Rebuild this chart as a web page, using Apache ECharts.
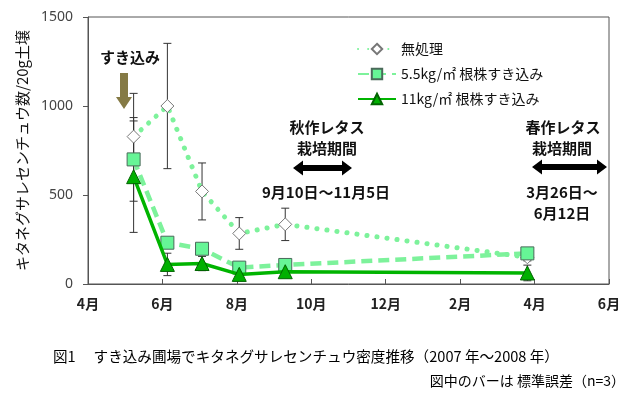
<!DOCTYPE html>
<html>
<head>
<meta charset="utf-8">
<script src="https://cdn.jsdelivr.net/npm/echarts@6/dist/echarts.min.js"></script>
<style>
html, body { margin: 0; padding: 0; background: #fff; }
#Echarts_Div { width: 638px; height: 397px; }
</style>
</head>
<body>
<div id="Echarts_Div"></div>
<script>
// sampling dates and nematode counts per 20g soil
var sampleDates = ['2007-05-08', '2007-06-05', '2007-07-03', '2007-08-03', '2007-09-10', '2008-03-26'];
var seriesNames = ['無処理', '5.5kg/㎡ 根株すき込み', '11kg/㎡ 根株すき込み'];
var noTreat = [828, 1000, 520, 284, 335, 150];
var noTreatSE = [243, 352, 160, 89, 91, 20];
var rate55 = [700, 232, 198, 92, 107, 172];
var rate55SE = [235, 25, 30, 10, 12, 15];
var rate11 = [603, 110, 115, 54, 69, 62];
var rate11SE = [313, 63, 40, 15, 10, 44];
var yTicks = [0, 500, 1000, 1500];

// months counted from 2007-04-01
function monthPos(s){
    var p = s.split('-');
    var y = +p[0], m = +p[1], d = +p[2];
    var days = new Date(y, m, 0).getDate();
    return (y - 2007) * 12 + (m - 4) + (d - 1) / days;
}
function toPoints(vals){
    var out = [];
    for(var i = 0; i < vals.length; i++){
        out.push([monthPos(sampleDates[i]), vals[i]]);
    }
    return out;
}
function toBars(vals, se){
    var out = [];
    for(var i = 0; i < vals.length; i++){
        out.push([monthPos(sampleDates[i]), vals[i] - se[i], vals[i] + se[i]]);
    }
    return out;
}
function renderBar(params, api){
    var top = api.coord([api.value(0), api.value(2)]);
    var bot = api.coord([api.value(0), api.value(1)]);
    var st = { stroke: '#333', lineWidth: 1 };
    return {
        type: 'group',
        children: [
            { type: 'line', shape: { x1: top[0], y1: top[1], x2: bot[0], y2: bot[1] }, style: st },
            { type: 'line', shape: { x1: top[0] - 4, y1: top[1], x2: top[0] + 4, y2: top[1] }, style: st },
            { type: 'line', shape: { x1: bot[0] - 4, y1: bot[1], x2: bot[0] + 4, y2: bot[1] }, style: st }
        ]
    };
}
function errSeries(vals, se){
    return {
        type: 'custom',
        renderItem: renderBar,
        data: toBars(vals, se),
        z: 1,
        silent: true
    };
}
function boldText(x, y, txt, size){
    return {
        type: 'text', x: x, y: y,
        style: {
            text: txt, fill: '#111', font: 'bold ' + (size || 15) + 'px "Noto Sans CJK JP"',
            align: 'center', verticalAlign: 'middle'
        }
    };
}
function dblArrow(x0, x1, y){
    var h = 10, hw = 7.5, sw = 3;
    return {
        type: 'polygon',
        shape: { points: [[x0, y], [x0 + h, y - hw], [x0 + h, y - sw], [x1 - h, y - sw], [x1 - h, y - hw],
                          [x1, y], [x1 - h, y + hw], [x1 - h, y + sw], [x0 + h, y + sw], [x0 + h, y + hw]] },
        style: { fill: '#000' }
    };
}

function drawChart(){
    var chartDom = document.getElementById('Echarts_Div');
    var myChart = echarts.init(chartDom);
    var monthNames = ['4月', '6月', '8月', '10月', '12月', '2月', '4月', '6月'];
    var option = {
        animation: false,
        grid: { left: 88, right: 29, top: 17, bottom: 113, show: true, borderColor: '#555', borderWidth: 1 },
        xAxis: {
            type: 'value', min: 0, max: 14, interval: 2,
            axisLine: { lineStyle: { color: '#555' } },
            axisTick: { inside: true, length: 5, lineStyle: { color: '#555' } },
            splitLine: { show: false },
            axisLabel: {
                margin: 13, color: '#222', fontSize: 14, fontWeight: 'bold', fontFamily: 'Noto Sans CJK JP',
                formatter: function(v){ return monthNames[Math.round(v / 2)]; }
            }
        },
        yAxis: {
            type: 'value', min: yTicks[0], max: yTicks[yTicks.length - 1], interval: 500,
            name: 'キタネグサレセンチュウ数/20g土壌',
            nameLocation: 'middle', nameGap: 46, nameRotate: 90,
            nameTextStyle: { fontSize: 15, color: '#111', fontFamily: 'Noto Sans CJK JP' },
            axisLine: { show: true, lineStyle: { color: '#555' } },
            axisTick: { show: true, length: 5, lineStyle: { color: '#555' } },
            splitLine: { show: false },
            axisLabel: {
                margin: 15, color: '#444', fontSize: 14, fontFamily: 'Noto Sans',
                formatter: function(v){ return String(v); }
            }
        },
        legend: {
            orient: 'vertical', left: 352, top: 37, itemGap: 11,
            itemWidth: 38, itemHeight: 13,
            data: seriesNames,
            textStyle: { fontSize: 14, color: '#111', fontFamily: 'Noto Sans CJK JP' }
        },
        graphic: [
            boldText(130, 57, 'すき込み', 15),
            {
                type: 'polygon',
                shape: { points: [[120, 73], [128, 73], [128, 97], [132, 97], [124, 109], [116, 97], [120, 97]] },
                style: { fill: '#857A45' }
            },
            boldText(327, 127, '秋作レタス'),
            boldText(327, 148, '栽培期間'),
            dblArrow(293, 352, 168),
            boldText(326, 192, '9月10日～11月5日'),
            boldText(563, 127, '春作レタス'),
            boldText(562, 148, '栽培期間'),
            dblArrow(532, 607, 167),
            boldText(562, 192, '3月26日～'),
            boldText(562, 213, '6月12日'),
            {
                type: 'text', x: 53, y: 356,
                style: { text: '図1　 すき込み圃場でキタネグサレセンチュウ密度推移（2007 年～2008 年）',
                         fill: '#000', font: '14.6px "Noto Sans CJK JP"', verticalAlign: 'middle' }
            },
            {
                type: 'text', x: 625, y: 381,
                style: { text: '図中のバーは 標準誤差（n=3）',
                         fill: '#000', font: '14px "Noto Sans CJK JP"', align: 'right', verticalAlign: 'middle' }
            }
        ],
        series: [
            errSeries(noTreat, noTreatSE),
            errSeries(rate55, rate55SE),
            errSeries(rate11, rate11SE),
            {
                name: seriesNames[0], type: 'line', data: toPoints(noTreat), z: 3,
                symbol: 'diamond', symbolSize: 13,
                lineStyle: { color: '#7DF29B', width: 5, type: [0.1, 10], cap: 'round' },
                itemStyle: { color: '#fff', borderColor: '#777', borderWidth: 1 }
            },
            {
                name: seriesNames[1], type: 'line', data: toPoints(rate55), z: 4,
                symbol: 'rect', symbolSize: 13,
                lineStyle: { color: '#7DF29B', width: 4.5, type: [11, 6] },
                itemStyle: { color: '#66F596', borderColor: '#4A6A5A', borderWidth: 1 }
            },
            {
                name: seriesNames[2], type: 'line', data: toPoints(rate11), z: 5,
                symbol: 'triangle', symbolSize: 14,
                lineStyle: { color: '#00B400', width: 3.5 },
                itemStyle: { color: '#00B000', borderColor: '#006400', borderWidth: 1 }
            }
        ]
    };
    option && myChart.setOption(option);
}
window.onload = function(){
    drawChart();
};
</script>
</body>
</html>
